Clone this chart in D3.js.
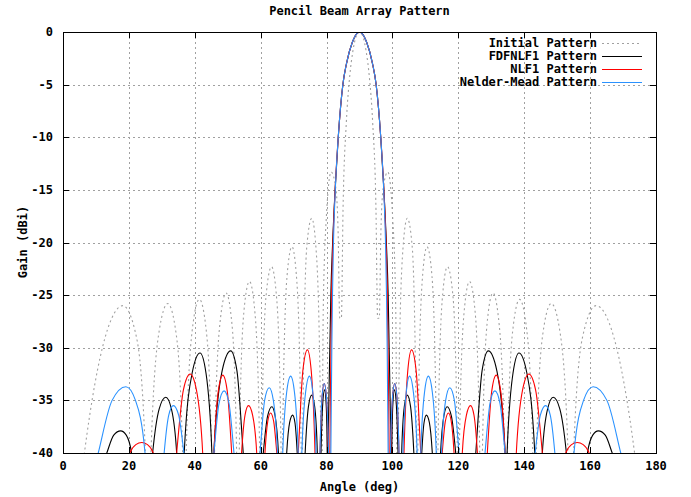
<!DOCTYPE html>
<html>
<head>
<meta charset="utf-8">
<script src="https://d3js.org/d3.v7.min.js"></script>
<style>
  body { margin: 0; background: #fff; }
  text { font-family: "DejaVu Sans Mono", "Liberation Mono", monospace; font-weight: bold; font-size: 12px; fill: #000; }
</style>
</head>
<body>
<svg id="chart" width="691" height="497"></svg>
<script>
// axis ticks
const angleTicks = [0, 20, 40, 60, 80, 100, 120, 140, 160, 180];
const gainTicks = [0, -5, -10, -15, -20, -25, -30, -35, -40];

// [angle (deg), gain (dBi)], points below -40 are clipped
const initialPattern = [
  [0,-60],[6.5,-40],[12.8,-29.0],[18.2,-26.0],[22.3,-29.0],[25.0,-40],[25.8,-50],
  [26.7,-40],[29.0,-28.8],[31.8,-25.8],[34.4,-28.8],[36.3,-40],[36.9,-50],
  [37.4,-40],[39.2,-28.4],[41.4,-25.4],[43.5,-28.4],[45.1,-40],[45.6,-50],
  [46.0,-40],[47.6,-27.8],[49.5,-24.8],[51.3,-27.8],[52.7,-40],[53.1,-50],
  [53.5,-40],[54.9,-26.6],[56.6,-23.7],[58.3,-26.8],[59.7,-40],[60.0,-50],
  [60.3,-40],[61.6,-25.2],[63.3,-22.3],[64.9,-25.5],[66.2,-40],[66.4,-50],
  [66.6,-40],[68.0,-23.2],[69.5,-20.4],[71.0,-23.8],[72.3,-40],[72.5,-50],
  [72.7,-40],[74.0,-20.4],[75.5,-17.7],[77.0,-21.5],[78.3,-40],[78.5,-50],
  [78.7,-40],[79.0,-26.3],[79.9,-17.8],[81.4,-13.3],[82.8,-14.8],[83.5,-18.9],
  [84.0,-27.2],[84.5,-27.2],[85.0,-16.9],[86.0,-8.6],[87.0,-4.3],[88.0,-1.8],[89.0,-0.4],
  [90,0],
  [91.0,-0.4],[92.0,-1.8],[93.0,-4.3],[94.0,-8.6],[95.0,-16.9],[95.5,-27.2],[96.0,-27.2],
  [96.5,-18.9],[97.2,-14.8],[98.6,-13.3],[100.1,-17.8],[101.0,-26.3],[101.3,-40],[101.5,-50],
  [101.7,-40],[103.0,-21.5],[104.5,-17.7],[106.0,-20.4],[107.3,-40],[107.5,-50],
  [107.7,-40],[109.0,-23.8],[110.5,-20.4],[112.0,-23.2],[113.4,-40],[113.6,-50],
  [113.8,-40],[115.1,-25.5],[116.7,-22.3],[118.4,-25.2],[119.7,-40],[120.0,-50],
  [120.3,-40],[121.7,-26.8],[123.4,-23.7],[125.1,-26.6],[126.5,-40],[126.9,-50],
  [127.3,-40],[128.7,-27.8],[130.5,-24.8],[132.4,-27.8],[134.0,-40],[134.4,-50],
  [134.9,-40],[136.5,-28.4],[138.6,-25.4],[140.8,-28.4],[142.6,-40],[143.1,-50],
  [143.7,-40],[145.6,-28.8],[148.2,-25.8],[151.0,-28.8],[153.3,-40],[154.2,-50],
  [155.0,-40],[157.7,-29.0],[161.8,-26.0],[167.2,-29.0],[173.5,-40],[180,-60]
];

const fdfnlf1Pattern = [
  [0,-55],[13.3,-40],[15.4,-38.3],[17.5,-37.9],[19.2,-38.3],[20.8,-40],[24.0,-55],
  [27.2,-40],[29.2,-35.8],[31.2,-34.7],[32.9,-35.8],[34.5,-40],[35.7,-50],
  [36.8,-40],[39.2,-32.4],[41.6,-30.5],[43.4,-32.4],[45.2,-40],[45.5,-50],
  [45.8,-40],[48.3,-32.2],[50.9,-30.3],[52.8,-32.2],[54.7,-40],[57.8,-55],
  [60.8,-40],[62.1,-36.5],[63.4,-35.6],[64.4,-36.5],[65.4,-40],[66.6,-50],
  [67.9,-40],[68.8,-37.1],[69.7,-36.4],[70.4,-37.1],[71.1,-40],[72.3,-50],
  [73.5,-40],[74.5,-35.6],[75.5,-34.5],[76.4,-35.6],[77.2,-40],[77.7,-50],
  [78.3,-40],[78.8,-35.5],[79.4,-34.0],[79.9,-35.5],[80.2,-40],[80.35,-50],
  [80.5,-40],[80.7,-35],[81.0,-30],[81.3,-25],[81.85,-20],[82.6,-15],[83.55,-10],
  [84.95,-5],[86.05,-3],[87.8,-1],[90,0],
  [92.2,-1],[93.95,-3],[95.05,-5],[96.45,-10],[97.4,-15],[98.15,-20],[98.7,-25],
  [99.0,-30],[99.3,-35],[99.5,-40],[99.65,-50],[99.8,-40],[100.1,-35.5],[100.6,-34.0],
  [101.2,-35.5],[101.7,-40],[102.3,-50],
  [102.8,-40],[103.6,-35.6],[104.5,-34.5],[105.5,-35.6],[106.5,-40],[107.7,-50],
  [108.9,-40],[109.6,-37.1],[110.3,-36.4],[111.2,-37.1],[112.1,-40],[113.4,-50],
  [114.6,-40],[115.6,-36.5],[116.6,-35.6],[117.9,-36.5],[119.2,-40],[122.2,-55],
  [125.3,-40],[127.2,-32.2],[129.1,-30.3],[131.7,-32.2],[134.2,-40],[134.5,-50],
  [134.8,-40],[136.6,-32.4],[138.4,-30.5],[140.8,-32.4],[143.2,-40],[144.3,-50],
  [145.5,-40],[147.1,-35.8],[148.8,-34.7],[150.8,-35.8],[152.8,-40],[156.0,-55],
  [159.2,-40],[160.8,-38.3],[162.5,-37.9],[164.6,-38.3],[166.7,-40],[180,-55]
];

const nlf1Pattern = [
  [0,-55],[17.0,-55],[20.3,-40],[22.1,-39.2],[23.9,-39.0],[25.65,-39.2],[27.4,-40],[31.0,-55],
  [34.5,-40],[36.55,-34.0],[38.6,-32.5],[40.5,-34.0],[42.4,-40],[44.1,-55],
  [45.8,-40],[47.15,-34.1],[48.5,-32.6],[49.85,-34.1],[51.2,-40],[52.7,-50],
  [54.2,-40],[55.25,-36.4],[56.3,-35.5],[57.55,-36.4],[58.8,-40],[60.0,-50],
  [61.3,-40],[62.15,-37.0],[63.0,-36.2],[63.95,-37.0],[64.9,-40],[68.1,-55],
  [71.4,-40],[72.8,-32.2],[74.2,-30.2],[75.35,-32.2],[76.5,-40],[77.2,-50],
  [78.0,-40],[78.65,-34.6],[79.3,-33.4],[79.95,-34.6],[80.5,-40],[80.75,-50],
  [81.0,-40],[81.15,-35],[81.35,-30],[81.55,-25],[81.95,-20],[82.6,-15],[83.55,-10],
  [84.95,-5],[86.05,-3],[87.8,-1],[90,0],
  [92.2,-1],[93.95,-3],[95.05,-5],[96.45,-10],[97.4,-15],[98.05,-20],[98.45,-25],
  [98.65,-30],[98.85,-35],[99.0,-40],[99.25,-50],[99.5,-40],[100.05,-34.6],[100.7,-33.4],
  [101.35,-34.6],[102.0,-40],[102.8,-50],
  [103.5,-40],[104.65,-32.2],[105.8,-30.2],[107.2,-32.2],[108.6,-40],[111.9,-55],
  [115.1,-40],[116.05,-37.0],[117.0,-36.2],[117.85,-37.0],[118.7,-40],[120.0,-50],
  [121.2,-40],[122.45,-36.4],[123.7,-35.5],[124.75,-36.4],[125.8,-40],[127.3,-50],
  [128.8,-40],[130.15,-34.1],[131.5,-32.6],[132.85,-34.1],[134.2,-40],[135.9,-55],
  [137.6,-40],[139.5,-34.0],[141.4,-32.5],[143.45,-34.0],[145.5,-40],[149.0,-55],
  [152.6,-40],[154.35,-39.2],[156.1,-39.0],[157.9,-39.2],[159.7,-40],[163.0,-55],[180,-55]
];

const nelderMeadPattern = [
  [0,-55],[10.7,-40],[14.9,-35.0],[19.1,-33.7],[22.0,-35.0],[24.9,-40],[27.8,-55],
  [30.7,-40],[32.1,-36.4],[33.5,-35.5],[35.1,-36.4],[36.7,-40],[41.2,-55],
  [45.8,-40],[47.35,-35.3],[48.9,-34.1],[50.4,-35.3],[51.9,-40],[55.8,-55],
  [59.8,-40],[61.2,-35.0],[62.6,-33.8],[63.85,-35.0],[65.1,-40],[65.9,-50],
  [66.7,-40],[67.9,-34.2],[69.1,-32.7],[70.25,-34.2],[71.4,-40],[72.0,-50],
  [72.5,-40],[73.65,-34.2],[74.8,-32.7],[75.8,-34.2],[76.8,-40],[77.4,-50],
  [78.0,-40],[78.65,-34.6],[79.3,-33.4],[79.95,-34.6],[80.6,-40],[81.0,-50],
  [81.3,-40],[81.45,-35],[81.6,-30],[81.8,-25],[82.1,-20],[82.65,-15],[83.55,-10],
  [84.95,-5],[86.05,-3],[87.8,-1],[90,0],
  [92.2,-1],[93.95,-3],[95.05,-5],[96.45,-10],[97.35,-15],[97.9,-20],[98.2,-25],
  [98.4,-30],[98.55,-35],[98.7,-40],[99.0,-50],[99.4,-40],[100.05,-34.6],[100.7,-33.4],
  [101.35,-34.6],[102.0,-40],[102.6,-50],
  [103.2,-40],[104.2,-34.2],[105.2,-32.7],[106.35,-34.2],[107.5,-40],[108.0,-50],
  [108.6,-40],[109.75,-34.2],[110.9,-32.7],[112.1,-34.2],[113.3,-40],[114.1,-50],
  [114.9,-40],[116.15,-35.0],[117.4,-33.8],[118.8,-35.0],[120.2,-40],[124.2,-55],
  [128.1,-40],[129.6,-35.3],[131.1,-34.1],[132.65,-35.3],[134.2,-40],[138.8,-55],
  [143.3,-40],[144.9,-36.4],[146.5,-35.5],[147.9,-36.4],[149.3,-40],[152.2,-55],
  [155.1,-40],[158.0,-35.0],[160.9,-33.7],[165.1,-35.0],[169.3,-40],[180,-55]
];

const series = [
  { name: "Initial Pattern", data: initialPattern, color: "#a0a0a0", dash: "2,3" },
  { name: "FDFNLF1 Pattern", data: fdfnlf1Pattern, color: "#000000", dash: null },
  { name: "NLF1 Pattern", data: nlf1Pattern, color: "#ff0000", dash: null },
  { name: "Nelder-Mead Pattern", data: nelderMeadPattern, color: "#2a92ff", dash: null }
];

const svg = d3.select("#chart");
const margin = { left: 63, top: 32, right: 35, bottom: 44 };
const width = 691 - margin.left - margin.right;
const height = 497 - margin.top - margin.bottom;

const x = d3.scaleLinear().domain([0, 180]).range([margin.left, margin.left + width]);
const y = d3.scaleLinear().domain([-40, 0]).range([margin.top + height, margin.top]);

svg.append("rect").attr("width", 691).attr("height", 497).attr("fill", "#fff");

// grid
const grid = svg.append("g").attr("stroke", "#a0a0a0").attr("stroke-dasharray", "2,3");
grid.selectAll("line.v").data(angleTicks.slice(1, -1)).join("line")
    .attr("x1", d => Math.round(x(d)) + 0.5).attr("x2", d => Math.round(x(d)) + 0.5)
    .attr("y1", y(0)).attr("y2", y(-40));
grid.selectAll("line.h").data(gainTicks.slice(1, -1)).join("line")
    .attr("y1", d => Math.round(y(d)) + 0.5).attr("y2", d => Math.round(y(d)) + 0.5)
    .attr("x1", x(0)).attr("x2", x(180));

// curves
svg.append("clipPath").attr("id", "plotclip")
  .append("rect").attr("x", x(0)).attr("y", y(0)).attr("width", width).attr("height", height);

const line = d3.line().x(d => x(d[0])).y(d => y(d[1])).curve(d3.curveMonotoneX);

svg.append("g").attr("clip-path", "url(#plotclip)")
  .selectAll("path").data(series).join("path")
    .attr("d", d => line(d.data))
    .attr("fill", "none")
    .attr("stroke", d => d.color)
    .attr("stroke-width", 1.1)
    .attr("stroke-dasharray", d => d.dash);

// ticks on all four sides, pointing inward
const tl = 6;
const ticks = svg.append("g").attr("stroke", "#000");
angleTicks.forEach(a => {
  const xx = Math.round(x(a)) + 0.5;
  ticks.append("line").attr("x1", xx).attr("x2", xx).attr("y1", y(-40)).attr("y2", y(-40) - tl);
  ticks.append("line").attr("x1", xx).attr("x2", xx).attr("y1", y(0)).attr("y2", y(0) + tl);
});
gainTicks.forEach(g => {
  const yy = Math.round(y(g)) + 0.5;
  ticks.append("line").attr("y1", yy).attr("y2", yy).attr("x1", x(0)).attr("x2", x(0) + tl);
  ticks.append("line").attr("y1", yy).attr("y2", yy).attr("x1", x(180)).attr("x2", x(180) - tl);
});

// frame
svg.append("rect")
  .attr("x", Math.round(x(0)) + 0.5).attr("y", Math.round(y(0)) + 0.5)
  .attr("width", Math.round(width)).attr("height", Math.round(height))
  .attr("fill", "none").attr("stroke", "#000");

// tick labels
svg.append("g").selectAll("text").data(angleTicks).join("text")
  .attr("x", d => x(d)).attr("y", 470).attr("text-anchor", "middle").text(d => d);
svg.append("g").selectAll("text").data(gainTicks).join("text")
  .attr("x", 53).attr("y", d => y(d) + 4).attr("text-anchor", "end").text(d => d);

// titles
svg.append("text").attr("x", 359.5).attr("y", 15).attr("text-anchor", "middle").text("Pencil Beam Array Pattern");
svg.append("text").attr("x", 359.5).attr("y", 491).attr("text-anchor", "middle").text("Angle (deg)");
svg.append("text").attr("transform", "translate(27,242) rotate(-90)").attr("text-anchor", "middle").text("Gain (dBi)");

// key
const key = svg.append("g");
series.forEach((s, i) => {
  const yy = 43 + i * 13;
  key.append("text").attr("x", 597).attr("y", yy + 4).attr("text-anchor", "end").text(s.name);
  key.append("line").attr("x1", 602).attr("x2", 642).attr("y1", yy + 0.5).attr("y2", yy + 0.5)
    .attr("stroke", s.color).attr("stroke-dasharray", s.dash);
});
</script>
</body>
</html>
